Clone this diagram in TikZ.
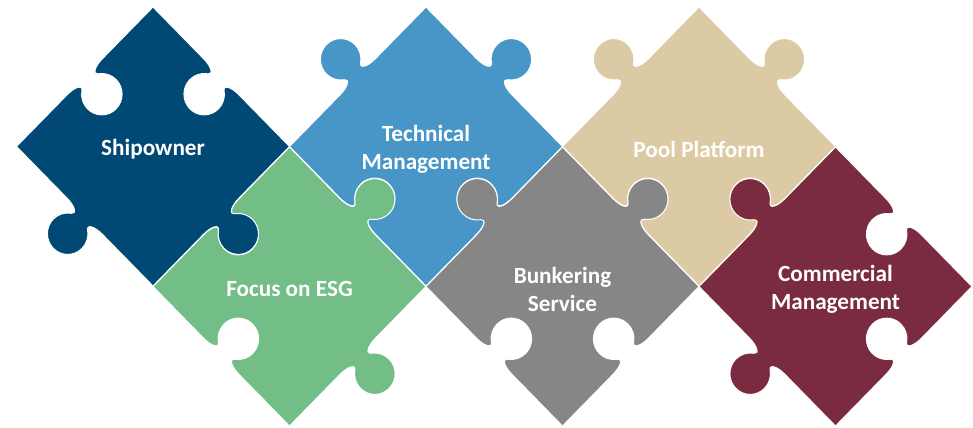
\documentclass[tikz,border=0pt]{standalone}
\usepackage{fontspec}
\setmainfont{Carlito}

\definecolor{ownerblue}{RGB}{0,73,117}
\definecolor{techblue}{RGB}{72,150,200}
\definecolor{esggreen}{RGB}{115,189,135}
\definecolor{bunkergray}{RGB}{134,134,134}
\definecolor{poolsand}{RGB}{220,202,164}
\definecolor{commred}{RGB}{123,43,64}

% one side of a puzzle piece, laid out from (0,0) to (1,0) in its own frame
% #1,#2: corner it starts at, #3: direction, #4: -1 = knob out, 1 = hole in
\newcommand{\pside}[4]{%
  {[shift={(#1,#2)}, rotate=#3, scale=1.41421, yscale=#4]
    -- (0.37,0) .. controls (0.43,0) and (0.4644,0.0218) .. (0.4398,0.039)
    .. controls (0.4117,0.0587) and (0.395,0.0907) .. (0.395,0.125)
    .. controls (0.395,0.183) and (0.442,0.23) .. (0.5,0.23)
    .. controls (0.558,0.23) and (0.605,0.183) .. (0.605,0.125)
    .. controls (0.605,0.0907) and (0.5883,0.0587) .. (0.5602,0.039)
    .. controls (0.5356,0.0218) and (0.57,0) .. (0.63,0)
    -- (1,0)}}

\begin{document}
\begin{tikzpicture}[x=3.4125cm, y=3.4125cm,
    piece/.style={draw=white, line width=0.7pt, line join=round},
    piecetext/.style={text=white, font=\fontsize{16.5}{20}\selectfont\bfseries, align=center, yshift=-2pt}]
  \useasboundingbox (0,0) rectangle (7.1282,3.1282);

  % pieces: centre, colour, sides UR/UL/LL/LR, text
  \foreach \cx/\cy/\col/\kur/\kul/\kll/\klr/\txt [count=\i] in {
      1.1209/2.0549/ownerblue/1/1/-1/-1/Shipowner,
      2.1209/1.0293/esggreen/-1/1/1/-1/Focus on ESG,
      3.1209/2.0549/techblue/-1/-1/1/1/Technical\\Management,
      4.1209/1.0293/bunkergray/-1/-1/1/1/Bunkering\\Service,
      5.1209/2.0549/poolsand/-1/-1/1/1/Pool Platform,
      6.1209/1.0293/commred/1/-1/-1/1/Commercial\\Management}
  {
    \begin{scope}[shift={(\cx,\cy)}, yscale=1.022]
      \path[piece, fill=\col] (1,0) \pside{1}{0}{135}{\kur} \pside{0}{1}{225}{\kul}
        \pside{-1}{0}{315}{\kll} \pside{0}{-1}{45}{\klr} -- cycle;
    \end{scope}
    \node[piecetext] (p\i) at (\cx,\cy) {\txt};
  }
\end{tikzpicture}
\end{document}
